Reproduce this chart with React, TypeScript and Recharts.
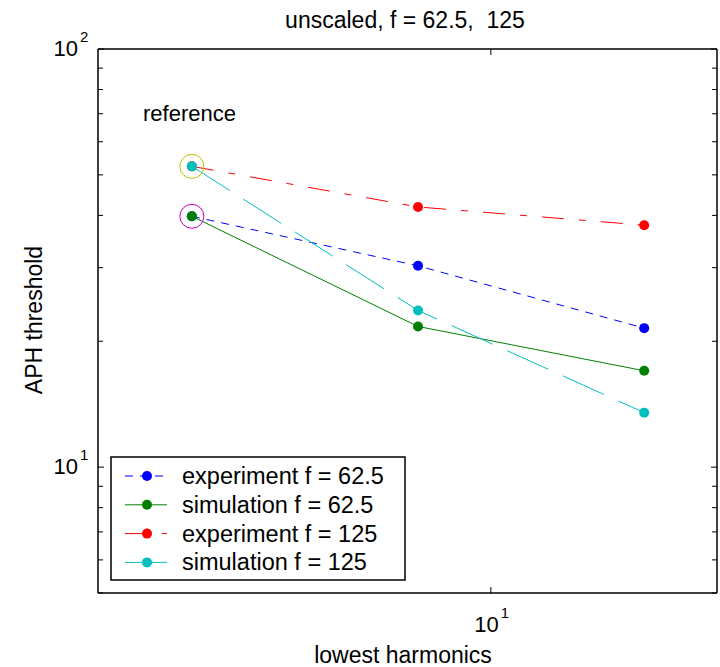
import { ComposedChart, Customized, Line, Scatter, XAxis, YAxis } from "recharts";

// lowest harmonic number on the x axis
const harmonics = [4, 8, 16];

// APH threshold per series
const expF62 = [39.8, 30.3, 21.5];
const simF62 = [39.8, 21.7, 17.0];
const expF125 = [52.4, 41.9, 37.9];
const simF125 = [52.4, 23.7, 13.5];

const xDomain = [3, 20];
const yDomain = [5, 100];
const xTicks = [10];
const yTicks = [5, 6, 7, 8, 9, 10, 20, 30, 40, 50, 60, 70, 80, 90, 100];
const labelledTicks = [10, 100];

const FONT = "'Liberation Sans', Arial, Helvetica, sans-serif";

const series = [
  { key: "e62", name: "experiment f = 62.5", values: expF62, color: "#0000ff", dash: "8 7" },
  { key: "s62", name: "simulation f = 62.5", values: simF62, color: "#008000", dash: undefined },
  { key: "e125", name: "experiment f = 125", values: expF125, color: "#ff0000", dash: "22 15 7 15" },
  { key: "s125", name: "simulation f = 125", values: simF125, color: "#00bfbf", dash: "45 16" },
];

// the circled "reference" points
const refMarks = [
  { x: harmonics[0], y: expF125[0], color: "#bfbf00" },
  { x: harmonics[0], y: expF62[0], color: "#bf00bf" },
];

const toPoints = (vals: number[]) => harmonics.map((h, i) => ({ x: h, y: vals[i] }));

function Power({ x, y, exp }: { x: number; y: number; exp: number }) {
  // "10" with a raised exponent; x is where the base ends
  return (
    <g fontFamily={FONT} fill="#000">
      <text x={x} y={y} textAnchor="end" fontSize={22}>
        10
      </text>
      <text x={x + 2} y={y - 14} fontSize={15}>
        {exp}
      </text>
    </g>
  );
}

function LeftTick(props: any) {
  const { x, y, payload } = props;
  const v = payload.value;
  const major = labelledTicks.includes(v);
  return (
    <g>
      <line x1={x} x2={x + (major ? 6 : 5)} y1={y} y2={y} stroke="#000" />
      {major && <Power x={x - 20} y={y + 7} exp={Math.round(Math.log10(v))} />}
    </g>
  );
}

function RightTick(props: any) {
  const { x, y, payload } = props;
  const major = labelledTicks.includes(payload.value);
  return <line x1={x} x2={x - (major ? 6 : 5)} y1={y} y2={y} stroke="#000" />;
}

function BottomTick(props: any) {
  const { x, y, payload } = props;
  return (
    <g>
      <line x1={x} x2={x} y1={y} y2={y - 6} stroke="#000" />
      <Power x={x + 8} y={y + 39} exp={Math.round(Math.log10(payload.value))} />
    </g>
  );
}

function TopTick(props: any) {
  const { x, y } = props;
  return <line x1={x} x2={x} y1={y} y2={y + 6} stroke="#000" />;
}

function Texts() {
  return (
    <g fontFamily={FONT} fill="#000">
      <text x={405} y={28} textAnchor="middle" fontSize={23} style={{ whiteSpace: "pre" }}>
        {"unscaled, f = 62.5,  125"}
      </text>
      <text x={403} y={663} textAnchor="middle" fontSize={23}>
        lowest harmonics
      </text>
      <text x={42} y={320} textAnchor="middle" fontSize={23} transform="rotate(-90 42 320)">
        APH threshold
      </text>
      <text x={143} y={121} fontSize={22}>
        reference
      </text>
    </g>
  );
}

function LegendBox() {
  const left = 111;
  const top = 457;
  return (
    <g fontFamily={FONT}>
      <rect x={left} y={top} width={294} height={123} fill="#fff" stroke="#000" strokeWidth={1.5} />
      {series.map((s, i) => {
        const cy = top + 19 + i * 28.8;
        return (
          <g key={s.key}>
            <line x1={125} x2={167} y1={cy} y2={cy} stroke={s.color} strokeDasharray={s.dash} />
            <circle cx={147} cy={cy} r={5} fill={s.color} />
            <text x={182} y={cy + 8} fontSize={23.5} fill="#000">
              {s.name}
            </text>
          </g>
        );
      })}
    </g>
  );
}

const frame = { stroke: "#000", strokeWidth: 1.5 };

export default function App() {
  return (
    <div style={{ position: "absolute", left: 0, top: 0, background: "#fff" }}>
      <ComposedChart
        width={720}
        height={667}
        margin={{ top: 0, right: 0, bottom: 0, left: 0 }}
        style={{ fontFamily: FONT }}
      >
        <XAxis
          xAxisId="b"
          dataKey="x"
          type="number"
          scale="log"
          domain={xDomain}
          ticks={xTicks}
          allowDataOverflow
          orientation="bottom"
          height={74}
          tickSize={0}
          tickMargin={0}
          tickLine={false}
          axisLine={frame}
          tick={<BottomTick />}
          interval={0}
        />
        <XAxis
          xAxisId="t"
          dataKey="x"
          type="number"
          scale="log"
          domain={xDomain}
          ticks={xTicks}
          allowDataOverflow
          orientation="top"
          height={49}
          tickSize={0}
          tickMargin={0}
          tickLine={false}
          axisLine={frame}
          tick={<TopTick />}
          interval={0}
        />
        <YAxis
          yAxisId="l"
          type="number"
          scale="log"
          domain={yDomain}
          ticks={yTicks}
          allowDataOverflow
          orientation="left"
          width={98}
          tickSize={0}
          tickMargin={0}
          tickLine={false}
          axisLine={frame}
          tick={<LeftTick />}
          interval={0}
        />
        <YAxis
          yAxisId="r"
          type="number"
          scale="log"
          domain={yDomain}
          ticks={yTicks}
          allowDataOverflow
          orientation="right"
          width={3}
          tickSize={0}
          tickMargin={0}
          tickLine={false}
          axisLine={frame}
          tick={<RightTick />}
          interval={0}
        />
        <Customized component={Texts} />
        {series.map((s) => (
          <Line
            key={s.key}
            xAxisId="b"
            yAxisId="l"
            data={toPoints(s.values)}
            dataKey="y"
            name={s.name}
            stroke={s.color}
            strokeWidth={1}
            strokeDasharray={s.dash}
            dot={{ r: 5, fill: s.color, stroke: s.color, strokeWidth: 0 }}
            activeDot={false}
            isAnimationActive={false}
          />
        ))}
        {refMarks.map((m, i) => (
          <Scatter
            key={i}
            xAxisId="b"
            yAxisId="l"
            data={[{ x: m.x, y: m.y }]}
            dataKey="y"
            isAnimationActive={false}
            shape={(p: any) => <circle cx={p.cx} cy={p.cy} r={12} fill="none" stroke={m.color} />}
          />
        ))}
        <Customized component={LegendBox} />
      </ComposedChart>
    </div>
  );
}
